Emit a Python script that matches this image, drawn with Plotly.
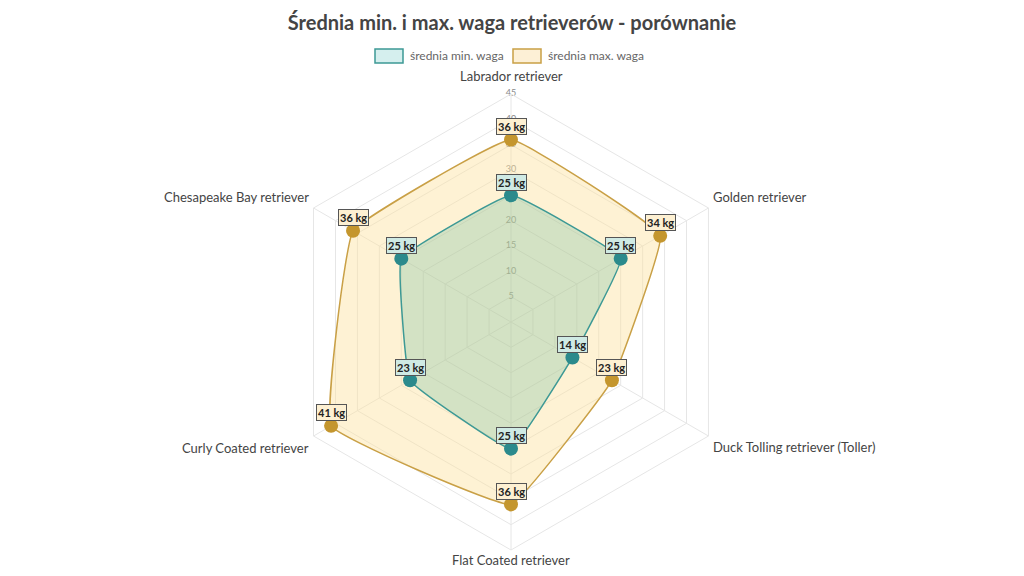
import math
import plotly.graph_objects as go

# ---- data ----
categories = [
    "Labrador retriever",
    "Golden retriever",
    "Duck Tolling retriever (Toller)",
    "Flat Coated retriever",
    "Curly Coated retriever",
    "Chesapeake Bay retriever",
]
min_weight = [25, 25, 14, 25, 23, 25]
max_weight = [36, 34, 23, 36, 41, 36]
radial_ticks = [5, 10, 15, 20, 25, 30, 35, 40, 45]
series_names = ["średnia min. waga", "średnia max. waga"]
title_text = "Średnia min. i max. waga retrieverów - porównanie"

# ---- styling / geometry ----
W, H = 1024, 576
R_MAX = 45
CX, CY, RAD = 511, 322, 228  # px
dom_x = [(CX - RAD) / W, (CX + RAD) / W]
dom_y = [(H - (CY + RAD)) / H, (H - (CY - RAD)) / H]

MIN_LINE = "#3d9995"
MIN_MARK = "#2b8a8c"
MIN_FILL = "rgba(60,170,140,0.22)"
MIN_BOX = "#cfeae4"
MIN_LEG = "#d5efee"
MAX_LINE = "#c9a046"
MAX_MARK = "#c4962e"
MAX_FILL = "rgba(253,226,160,0.45)"
MAX_BOX = "#fdf0d2"
MAX_LEG = "#fdf0d6"
FONT = "Lato"


def closed(seq):
    return list(seq) + [seq[0]]


def to_paper(v, i, n, extra_px=0.0):
    ang = 2 * math.pi * i / n
    rpx = v / R_MAX * RAD + extra_px
    return (CX + rpx * math.sin(ang)) / W, (H - (CY - rpx * math.cos(ang))) / H, ang


fig = go.Figure()

# radial tick labels drawn along the first spoke (under the data)
fig.add_trace(go.Scatterpolar(
    r=radial_ticks,
    theta=[categories[0]] * len(radial_ticks),
    mode="text",
    text=[str(t) for t in radial_ticks],
    textfont=dict(family=FONT, size=9, color="#8a8a8a"),
    showlegend=False,
    hoverinfo="skip",
))

for vals, name, lc, fc in [
    (max_weight, series_names[1], MAX_LINE, MAX_FILL),
    (min_weight, series_names[0], MIN_LINE, MIN_FILL),
]:
    fig.add_trace(go.Scatterpolar(
        r=closed(vals),
        theta=closed(categories),
        mode="lines",
        fill="toself",
        fillcolor=fc,
        line=dict(color=lc, width=1.5, shape="spline", smoothing=0.25),
        name=name,
        showlegend=False,
        hoverinfo="skip",
    ))

for vals, mc, name in [(max_weight, MAX_MARK, series_names[1]), (min_weight, MIN_MARK, series_names[0])]:
    fig.add_trace(go.Scatterpolar(
        r=vals,
        theta=categories,
        mode="markers",
        marker=dict(color=mc, size=14),
        name=name,
        showlegend=False,
    ))

annotations = []
shapes = []
n = len(categories)

# value boxes positioned from the data through the polar geometry
for vals in (max_weight, min_weight):
    bg = MAX_BOX if vals is max_weight else MIN_BOX
    for i, v in enumerate(vals):
        fx, fy, _ = to_paper(v, i, n)
        annotations.append(dict(
            x=fx, y=fy, xref="paper", yref="paper",
            xanchor="center", yanchor="middle",
            text=f"<b>{v} kg</b>", showarrow=False,
            yshift=13,
            font=dict(family=FONT, size=11, color="#222"),
            bgcolor=bg, bordercolor="#555", borderwidth=1, borderpad=1,
        ))

# category labels around the outer ring
for i, cat in enumerate(categories):
    ang = 2 * math.pi * i / n
    s, c = math.sin(ang), math.cos(ang)
    if c > 0.99:
        pad = 8
    elif abs(s) > 0.01:
        pad = 3
    else:
        pad = 0
    fx, fy, _ = to_paper(R_MAX, i, n, extra_px=pad)
    xa = "center" if abs(s) < 0.01 else ("left" if s > 0 else "right")
    ya = "middle" if abs(c) < 0.01 else ("bottom" if c > 0 else "top")
    annotations.append(dict(
        x=fx, y=fy, xref="paper", yref="paper", xanchor=xa, yanchor=ya,
        text=cat, showarrow=False,
        font=dict(family=FONT, size=13, color="#444"),
    ))

# legend (boxes + labels)
legend_items = [
    (series_names[0], MIN_LEG, MIN_LINE, 375),
    (series_names[1], MAX_LEG, MAX_LINE, 513),
]
for label, fill, line, x0 in legend_items:
    shapes.append(dict(
        type="rect", xref="paper", yref="paper",
        x0=x0 / W, x1=(x0 + 28) / W, y0=(H - 63) / H, y1=(H - 49) / H,
        fillcolor=fill, line=dict(color=line, width=1.5),
    ))
    annotations.append(dict(
        x=(x0 + 33) / W, y=(H - 56) / H, xref="paper", yref="paper",
        xanchor="left", yanchor="middle", text=label, showarrow=False,
        font=dict(family=FONT, size=12, color="#666"),
    ))

fig.update_layout(
    width=W, height=H,
    margin=dict(l=0, r=0, t=0, b=0),
    paper_bgcolor="white",
    plot_bgcolor="white",
    font=dict(family=FONT, color="#555"),
    title=dict(
        text=f"<b>{title_text}</b>",
        x=0.5, xanchor="center", y=1 - 23 / H, yanchor="middle",
        font=dict(family=FONT, size=20, color="#444"),
    ),
    showlegend=False,
    polar=dict(
        domain=dict(x=dom_x, y=dom_y),
        bgcolor="white",
        gridshape="linear",
        radialaxis=dict(
            range=[0, R_MAX], dtick=5, showticklabels=False, ticks="",
            showline=False, gridcolor="#e6e6e6", gridwidth=1,
        ),
        angularaxis=dict(
            rotation=90, direction="clockwise",
            gridcolor="#e6e6e6", linecolor="#e6e6e6", showline=True,
            ticks="", showticklabels=False,
        ),
    ),
    annotations=annotations,
    shapes=shapes,
)

fig.write_html("out.html")
